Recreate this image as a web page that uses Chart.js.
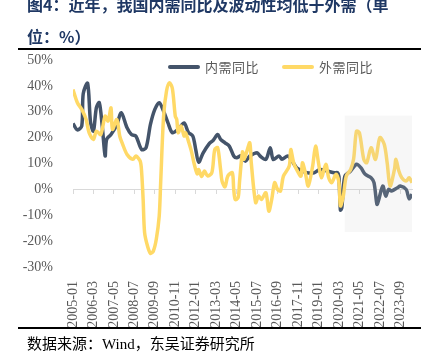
<!DOCTYPE html>
<html>
<head>
<meta charset="utf-8">
<script src="https://cdn.jsdelivr.net/npm/chart.js@4.4.1/dist/chart.umd.min.js"></script>
<style>
  body { margin: 0; width: 433px; height: 364px; position: relative; overflow: hidden; background: #fff; }
  #wrap { position: absolute; left: 0; top: 0; width: 433px; height: 364px; }
  #title { position: absolute; left: 27px; top: -12px; width: 382px; font-family: "Noto Sans CJK SC", sans-serif; font-size: 16px; line-height: 32px; font-weight: bold; color: #1f3864; }
  .rule { position: absolute; left: 18px; width: 403px; height: 2px; background: #000; }
  #source { position: absolute; left: 27px; top: 332px; font-family: "Liberation Serif", "Noto Sans CJK SC", serif; font-size: 15px; color: #000; }
  #legend { position: absolute; top: 58px; height: 18px; left: 168px; display: flex; font-family: "Noto Sans CJK SC", sans-serif; font-size: 13px; line-height: 18px; color: #595959; }
  .item { display: flex; align-items: center; margin-right: 23px; letter-spacing: 0.5px; }
  .swatch { width: 32px; height: 4px; border-radius: 2px; margin-right: 5px; }
</style>
</head>
<body>
<div id="wrap"><canvas id="myChart" width="433" height="364"></canvas></div>
<div id="legend"></div>
<div id="title">图4：近年，我国内需同比及波动性均低于外需（单位：%）</div>
<div class="rule" style="top:48px"></div>
<div class="rule" style="top:327px"></div>
<div id="source">数据来源：Wind，东吴证券研究所</div>
<script>
// Series names
const seriesNames = ['内需同比', '外需同比'];

// 内需同比 (%)
const domesticDates = ['2005-01','2005-04','2005-07','2005-08','2005-11','2006-01','2006-03','2006-05','2006-07','2006-09',
  '2006-11','2006-12','2007-03','2007-07','2007-10','2008-02','2008-05','2008-08','2008-12','2009-03',
  '2009-06','2009-09','2009-12','2010-03','2010-06','2010-09','2011-01','2011-05','2011-08','2011-11',
  '2012-01','2012-03','2012-06','2012-10','2013-01','2013-04','2013-06','2013-09','2013-12','2014-03',
  '2014-05','2014-08','2014-11','2015-02','2015-07','2015-09','2016-01','2016-04','2016-06','2016-10',
  '2016-12','2017-04','2017-07','2017-10','2018-02','2018-05','2018-10','2019-02','2019-07','2019-12',
  '2020-02','2020-03','2020-04','2020-05','2020-07','2020-11','2021-03','2021-06','2021-09','2022-01',
  '2022-03','2022-05','2022-06','2022-09','2022-11','2023-01','2023-03','2023-07','2023-09','2024-01',
  '2024-03','2024-05'];
const domesticValues = [25.5, 23, 24.5, 37, 41, 26, 22.5, 31.6, 33.5, 24.5,
  12.9, 19.3, 21.2, 25, 29.6, 23.8, 21.2, 20.6, 15.4, 16.1,
  25.1, 30.9, 33.5, 30.2, 25.7, 21.9, 23.2, 25.7, 22, 20.6,
  15.4, 10.5, 14, 17.5, 19, 21.2, 19.3, 18, 16.7, 12.9,
  12.2, 13, 10.9, 12.9, 14.2, 12.9, 11.6, 16.1, 11.6, 12.9,
  11.6, 12.9, 10.9, 8.4, 7.1, 6.4, 6.4, 7.7, 7.1, 6.4,
  6.5, 5, -8, -7, 5, 7.1, 9.7, 8.4, 5.8, 4.5,
  2.6, -5.8, -4.5, 1.3, -2.6, 0, -0.6, 0.6, 1.3, 0,
  -3.6, -1.9];

// 外需同比 (%)
const foreignDates = ['2005-01','2005-04','2005-07','2005-10','2005-12','2006-03','2006-05','2006-08','2006-11','2007-01',
  '2007-03','2007-04','2007-07','2007-09','2007-11','2008-02','2008-06','2008-08','2008-11','2008-12',
  '2009-01','2009-02','2009-04','2009-06','2009-08','2009-10','2009-12','2010-01','2010-03','2010-05',
  '2010-07','2010-09','2010-11','2010-12','2011-01','2011-03','2011-05','2011-06','2011-08','2011-10',
  '2011-12','2012-02','2012-03','2012-05','2012-07','2012-09','2012-12','2013-02','2013-04','2013-06',
  '2013-07','2013-09','2013-11','2014-02','2014-03','2014-04','2014-06','2014-07','2014-09','2014-10',
  '2014-12','2015-02','2015-03','2015-06','2015-08','2015-10','2016-01','2016-03','2016-05','2016-07',
  '2016-09','2016-11','2017-01','2017-05','2017-06','2017-08','2017-10','2018-01','2018-02','2018-04',
  '2018-06','2018-09','2018-11','2019-01','2019-03','2019-06','2019-08','2019-10','2020-01','2020-03',
  '2020-04','2020-06','2020-08','2020-11','2021-01','2021-03','2021-05','2021-08','2021-10','2022-01',
  '2022-04','2022-07','2022-10','2022-12','2023-02','2023-05','2023-06','2023-08','2023-10','2024-01',
  '2024-03','2024-05'];
const foreignValues = [38.6, 33.5, 30.9, 27, 21.9, 19.3, 22.5, 21.2, 28.3, 26.4,
  31.5, 23.2, 27, 20.6, 17.4, 13.5, 11.6, 12.9, 10.9, 6.4,
  -3.9, -16.7, -21.9, -24.7, -23.8, -19.3, -10.3, 2.6, 28.3, 38,
  41.2, 39, 28.3, 27, 21.9, 24.5, 20.6, 21.9, 18.6, 14.8,
  9.7, 6, 7.7, 5, 7.1, 5.2, 6.4, 15.4, 16.1, 7.7,
  3.2, 1, 5.2, 6.4, 0, -3.9, -3.2, 3.2, 14.5, 11.6,
  14.8, 18, 10.3, -5.1, -2.6, -3.9, -1.3, -8.4, -3.9, 2.6,
  0, -0.6, 5.1, 9, 15.4, 10.3, 7.7, 5.1, 10.3, 6.4,
  1.3, 9, 16.7, 10.3, 4.5, 9.7, 4.5, 2.6, 5.8, 2.6,
  -6.4, -2.6, 5.1, 7.7, 11.6, 22.5, 21.9, 11.6, 10.3, 16.1,
  11.6, 20, 17.4, 10.3, 1.3, 7.7, 11.6, 7.1, 4.5, 3.2,
  4.5, 2.6];

// Axis settings
const firstMonth = '2005-01';
const lastMonth = '2024-05';
const labelStep = 14; // one label every 14 months
const yTicks = [-30, -20, -10, 0, 10, 20, 30, 40, 50];

// Highlighted recent period
const shadeFrom = '2020-07';
const shadeTop = 28.5;
const shadeBottom = -16.5;

const colors = ['#44546a', '#ffd966'];

function monthIndex(s) {
    const [y, m] = s.split('-').map(Number);
    const [y0, m0] = firstMonth.split('-').map(Number);
    return (y - y0) * 12 + (m - m0);
}

function monthLabel(i) {
    const [y0, m0] = firstMonth.split('-').map(Number);
    const t = (m0 - 1) + i;
    const y = y0 + Math.floor(t / 12);
    const m = (t % 12) + 1;
    return y + '-' + String(m).padStart(2, '0');
}

function toPoints(dates, values) {
    return dates.map((d, i) => ({ x: monthIndex(d), y: values[i] }));
}

const xMax = monthIndex(lastMonth);
const xTickValues = [];
for (let v = 0; v <= xMax; v += labelStep) xTickValues.push(v);

// Light grey box over the recent period, drawn over the lines
const shadePlugin = {
    id: 'shade',
    afterDatasetsDraw(chart) {
        const { ctx, chartArea, scales: { x, y } } = chart;
        const left = x.getPixelForValue(monthIndex(shadeFrom));
        const top = y.getPixelForValue(shadeTop);
        const bottom = y.getPixelForValue(shadeBottom);
        ctx.save();
        ctx.fillStyle = 'rgba(200, 200, 200, 0.15)';
        ctx.fillRect(left, top, chartArea.right - left, bottom - top);
        ctx.restore();
    }
};

// Legend sits inside the plot, so build it as html
const legendEl = document.getElementById('legend');
seriesNames.forEach((name, i) => {
    const item = document.createElement('div');
    item.className = 'item';
    const sw = document.createElement('span');
    sw.className = 'swatch';
    sw.style.background = colors[i];
    item.appendChild(sw);
    item.appendChild(document.createTextNode(name));
    legendEl.appendChild(item);
});

const tickFont = { family: '"Liberation Serif", serif', size: 14 };

const ctx = document.getElementById('myChart').getContext('2d');
new Chart(ctx, {
    type: 'line',
    data: {
        datasets: [
            {
                label: seriesNames[0],
                data: toPoints(domesticDates, domesticValues),
                borderColor: colors[0],
                borderWidth: 3.5,
                pointRadius: 0,
                tension: 0.3,
                order: 1
            },
            {
                label: seriesNames[1],
                data: toPoints(foreignDates, foreignValues),
                borderColor: colors[1],
                borderWidth: 3.5,
                pointRadius: 0,
                tension: 0.3,
                order: 0
            }
        ]
    },
    options: {
        responsive: false,
        animation: false,
        layout: { padding: { left: 0, right: 21, top: 60, bottom: 37 } },
        scales: {
            x: {
                type: 'linear',
                min: 0,
                max: xMax,
                afterBuildTicks: s => { s.ticks = xTickValues.map(v => ({ value: v })); },
                afterFit: s => { s.height = 60; },
                grid: { display: false },
                border: { display: false },
                ticks: {
                    minRotation: 90,
                    maxRotation: 90,
                    padding: 6,
                    color: '#595959',
                    font: tickFont,
                    callback: v => monthLabel(v)
                }
            },
            // axis line with tick marks at 0%
            x2: {
                type: 'linear',
                position: { y: 0 },
                min: 0,
                max: xMax,
                afterBuildTicks: s => { s.ticks = xTickValues.map(v => ({ value: v })); },
                grid: { drawOnChartArea: false, drawTicks: true, tickLength: 4, color: '#d9d9d9' },
                border: { display: true, color: '#d9d9d9', width: 1 },
                ticks: { display: false }
            },
            y: {
                min: -30,
                max: 50,
                afterBuildTicks: s => { s.ticks = yTicks.map(v => ({ value: v })); },
                afterFit: s => { s.width = 73; },
                grid: { display: false },
                border: { display: false },
                ticks: {
                    padding: 12,
                    color: '#595959',
                    font: tickFont,
                    callback: v => v + '%'
                }
            }
        },
        plugins: {
            legend: { display: false },
            tooltip: { enabled: false }
        }
    },
    plugins: [shadePlugin]
});
</script>
</body>
</html>
